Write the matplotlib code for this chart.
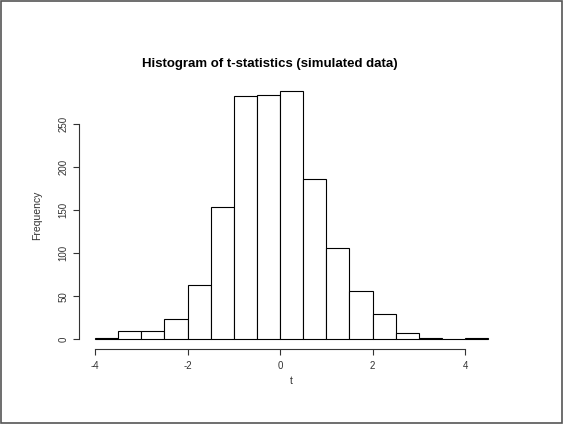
import matplotlib
matplotlib.use("Agg")
import matplotlib.pyplot as plt
from matplotlib.patches import Rectangle

bin_edges = [-4.0, -3.5, -3.0, -2.5, -2.0, -1.5, -1.0, -0.5, 0.0, 0.5, 1.0,
             1.5, 2.0, 2.5, 3.0, 3.5, 4.0, 4.5]
counts = [2, 10, 10, 24, 63, 154, 282, 284, 288, 186, 106, 56, 29, 7, 1, 0, 1]
x_ticks = [-4, -2, 0, 2, 4]
y_ticks = [0, 50, 100, 150, 200, 250]

plt.rcParams['font.family'] = ['Liberation Sans', 'DejaVu Sans']

fig = plt.figure(figsize=(5.64, 4.24), dpi=100)
ax = fig.add_axes([0.1406, 0.1764, 0.7528, 0.6316])

lefts = bin_edges[:-1]
widths = [bin_edges[i + 1] - bin_edges[i] for i in range(len(counts))]
ax.bar(lefts, counts, width=widths, align='edge', facecolor='white',
       edgecolor='black', linewidth=0.8)

ax.set_xlim(-4.34, 4.84)
ax.set_ylim(-11.5, 299.5)
for s in ['top', 'right']:
    ax.spines[s].set_visible(False)
ax.spines['left'].set_bounds(0, 250)
ax.spines['bottom'].set_bounds(-4, 4)
for s in ['left', 'bottom']:
    ax.spines[s].set_linewidth(0.8)
    ax.spines[s].set_color('#333333')

ax.set_xticks(x_ticks)
ax.set_yticks(y_ticks)
ax.set_xticklabels([str(v) for v in x_ticks])
ax.set_yticklabels([str(v) for v in y_ticks], rotation=90, va='center')
ax.tick_params(axis='both', length=4.3, width=0.8, color='#333333',
               labelsize=7, labelcolor='#333333')
ax.tick_params(axis='x', pad=4)
ax.tick_params(axis='y', pad=3.5)

ax.set_xlabel('t', fontsize=7.5, color='#333333', labelpad=4)
ax.set_ylabel('Frequency', fontsize=7.5, color='#333333', labelpad=12)

fig.text(0.479, 0.849, 'Histogram of t-statistics (simulated data)',
         ha='center', va='center', fontsize=9.5, fontweight='bold')

fig.patches.append(Rectangle((0.002, 0.003), 0.995, 0.994, transform=fig.transFigure,
                             fill=False, edgecolor='#555555', linewidth=1.2))

fig.savefig('out.png', dpi=100)
